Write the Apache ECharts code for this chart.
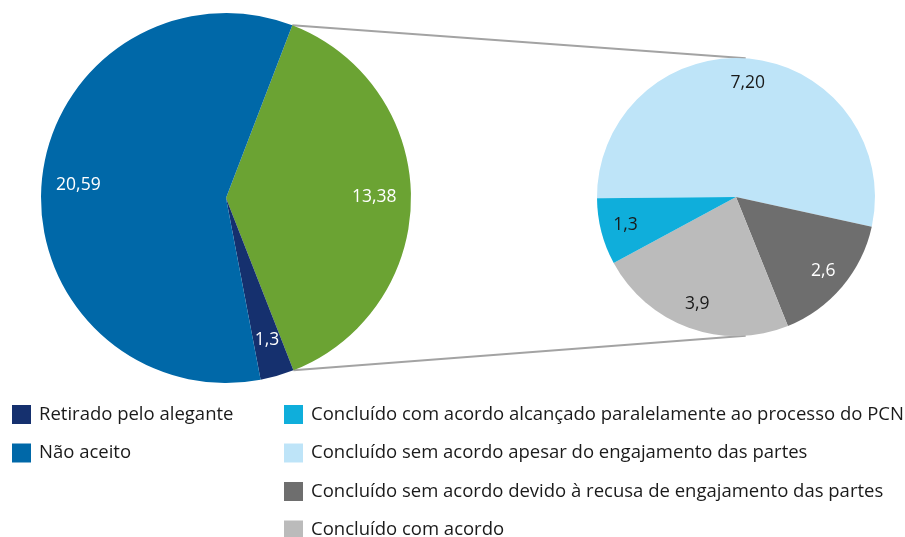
<!DOCTYPE html>
<html>
<head>
<meta charset="utf-8">
<script src="https://cdn.jsdelivr.net/npm/echarts@6/dist/echarts.min.js"></script>
<style>
html, body { margin: 0; padding: 0; background: #fff; }
#main { width: 905px; height: 537px; }
</style>
</head>
<body>
<div id="main"></div>
<script>
// main pie, clockwise from the top of the green slice
var mainNames = ['Concluído', 'Retirado pelo alegante', 'Não aceito'];
var mainValues = [13.38, 1.03, 20.59];
var mainLabels = ['13,38', '1,3', '20,59'];

// breakdown of the green slice, clockwise from 9 o'clock
var subNames = [
    'Concluído sem acordo apesar do engajamento das partes',
    'Concluído sem acordo devido à recusa de engajamento das partes',
    'Concluído com acordo',
    'Concluído com acordo alcançado paralelamente ao processo do PCN'
];
var subValues = [9.0, 2.6, 3.9, 1.3];
var subLabels = ['7,20', '2,6', '3,9', '1,3'];

var leftLegend = ['Retirado pelo alegante', 'Não aceito'];
var rightLegend = [subNames[3], subNames[0], subNames[1], subNames[2]];

var mainColors = ['#6ba333', '#15306e', '#0068a8'];
var mainLabelColors = ['#fff', '#fff', '#fff'];
var subColors = ['#bee4f8', '#6e6e6e', '#bbbbbb', '#0faedb'];
var subLabelColors = ['#1a1a1a', '#fff', '#1a1a1a', '#1a1a1a'];

var FONT = 'Open Sans';
var leftC = [226, 198], leftR = 185, leftStart = 69;
var rightC = [736, 197], rightR = 139, rightStart = 180.5;

function sum(a) { return a.reduce(function (s, v) { return s + v; }, 0); }

// ends of the connector lines
var total = sum(mainValues);
var a1 = leftStart * Math.PI / 180;
var a2 = (leftStart - mainValues[0] / total * 360) * Math.PI / 180;
var b = 86 * Math.PI / 180;
function pt(c, r, a) { return [c[0] + r * Math.cos(a), c[1] - r * Math.sin(a)]; }
var p1 = pt(leftC, leftR, a1), p2 = pt(leftC, leftR, a2);
var q1 = pt(rightC, rightR, b), q2 = pt(rightC, rightR, -b);

function slices(names, values, colors) {
    return values.map(function (v, i) {
        return { name: names[i], value: v, itemStyle: { color: colors[i] } };
    });
}
function labelSlices(values, texts, colors) {
    return values.map(function (v, i) {
        return {
            value: v,
            label: { formatter: texts[i], color: colors[i] }
        };
    });
}

var chart = echarts.init(document.getElementById('main'));
var legendBase = {
    orient: 'vertical',
    top: 405,
    height: 180,
    padding: 0,
    icon: 'rect',
    itemWidth: 19,
    itemHeight: 19,
    itemGap: 19.5,
    selectedMode: false,
    textStyle: { fontFamily: FONT, fontSize: 18.5, color: '#1a1a1a', lineHeight: 19, padding: [0, 0, 0, 3] }
};

chart.setOption({
    animation: false,
    legend: [
        Object.assign({ left: 12, data: leftLegend }, legendBase),
        Object.assign({ left: 284, data: rightLegend }, legendBase)
    ],
    graphic: [
        { type: 'line', z: 0, shape: { x1: p1[0], y1: p1[1], x2: q1[0], y2: q1[1] }, style: { stroke: '#a3a3a3', lineWidth: 2 } },
        { type: 'line', z: 0, shape: { x1: p2[0], y1: p2[1], x2: q2[0], y2: q2[1] }, style: { stroke: '#a3a3a3', lineWidth: 2 } }
    ],
    series: [
        {
            type: 'pie',
            center: leftC,
            radius: leftR,
            startAngle: leftStart,
            clockwise: true,
            label: { show: false },
            labelLine: { show: false },
            emphasis: { disabled: true },
            silent: true,
            data: slices(mainNames, mainValues, mainColors)
        },
        {
            type: 'pie',
            center: rightC,
            radius: rightR,
            startAngle: rightStart,
            clockwise: true,
            label: { show: false },
            labelLine: { show: false },
            emphasis: { disabled: true },
            silent: true,
            data: slices(subNames, subValues, subColors)
        },
        // label rings: transparent, only place the value labels
        {
            type: 'pie',
            center: leftC,
            radius: [leftR * 0.57, leftR],
            startAngle: leftStart,
            silent: true,
            itemStyle: { color: 'rgba(0,0,0,0)' },
            label: { position: 'inside', fontFamily: FONT, fontSize: 17.5 },
            labelLine: { show: false },
            emphasis: { disabled: true },
            data: labelSlices(mainValues, mainLabels, mainLabelColors)
        },
        {
            type: 'pie',
            center: rightC,
            radius: [rightR * 0.6, rightR],
            startAngle: rightStart,
            silent: true,
            itemStyle: { color: 'rgba(0,0,0,0)' },
            label: { position: 'inside', fontFamily: FONT, fontSize: 17.5 },
            labelLine: { show: false },
            emphasis: { disabled: true },
            data: labelSlices(subValues, subLabels, subLabelColors)
        }
    ]
});
</script>
</body>
</html>
